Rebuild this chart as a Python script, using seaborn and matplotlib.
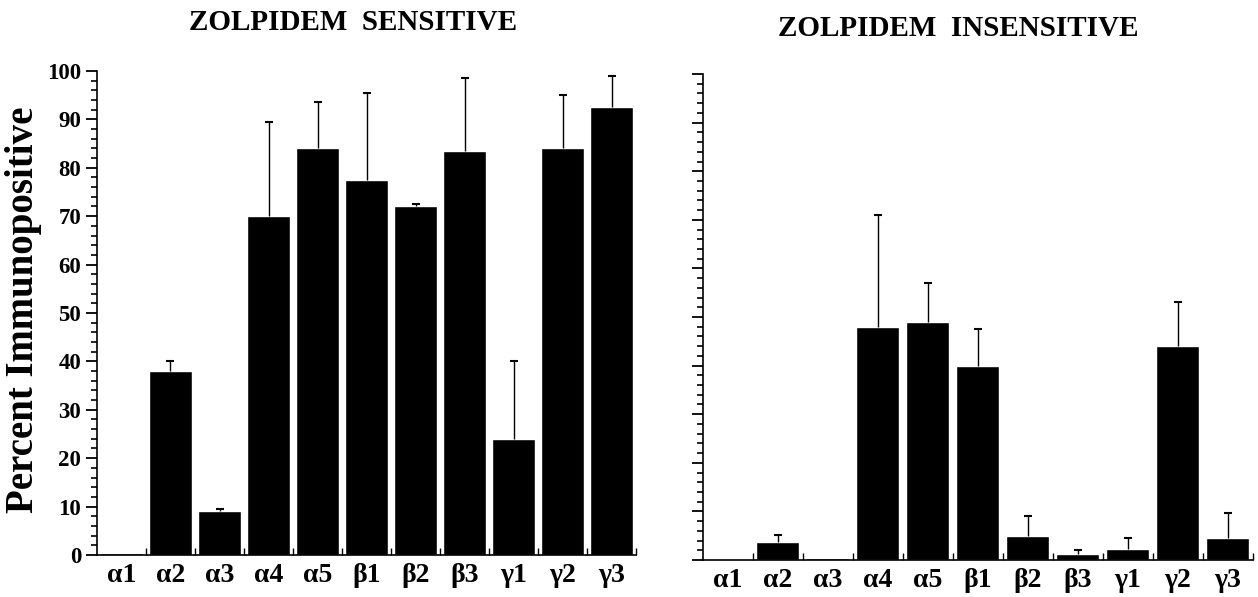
import numpy as np
import pandas as pd
import matplotlib
matplotlib.use("Agg")
import matplotlib.pyplot as plt
from matplotlib.ticker import MultipleLocator
import seaborn as sns

# subunit labels
subunits = ["α1", "α2", "α3", "α4", "α5", "β1", "β2", "β3", "γ1", "γ2", "γ3"]

# zolpidem sensitive cells: mean and upper error
sens_mean = [0.5, 38, 9, 70, 84, 77.5, 72, 83.5, 24, 84, 92.5]
sens_err = [0, 2, 0.5, 19.5, 9.5, 18, 0.5, 15, 16, 11, 6.5]

# zolpidem insensitive cells
insens_mean = [0.2, 3.8, 0.4, 48, 49, 40, 5, 1.2, 2.2, 44, 4.6]
insens_err = [0, 1.4, 0, 23, 8, 7.5, 4, 0.8, 2.3, 9, 5]

sns.set_style("ticks")
plt.rcParams["font.family"] = ["Liberation Serif", "DejaVu Serif"]
plt.rcParams["font.weight"] = "bold"
plt.rcParams["text.color"] = "black"
plt.rcParams["xtick.color"] = "black"
plt.rcParams["ytick.color"] = "black"
plt.rcParams["axes.edgecolor"] = "black"

fig = plt.figure(figsize=(12.58, 5.97), dpi=100)
ax1 = fig.add_axes([0.0771, 0.0704, 0.4285, 0.8107])
ax2 = fig.add_axes([0.5588, 0.0620, 0.4372, 0.8140])


def draw_panel(ax, means, errs, show_labels):
    df = pd.DataFrame({"subunit": subunits, "value": means})
    sns.barplot(data=df, x="subunit", y="value", color="black",
                width=0.86, saturation=1, ax=ax)
    pos = np.arange(len(subunits))
    errs = np.array(errs)
    keep = errs > 0
    eb = ax.errorbar(pos[keep], np.array(means)[keep],
                     yerr=[np.zeros(keep.sum()), errs[keep]], fmt="none",
                     ecolor="black", elinewidth=1, capsize=3, capthick=1.5)
    # only the upper caps are drawn
    eb[1][0].set_visible(False)
    ax.set_xlim(-0.5, len(subunits) - 0.5)
    ax.set_ylim(0, 100)
    ax.set_xlabel("")
    ax.set_ylabel("")
    ax.yaxis.set_major_locator(MultipleLocator(10))
    ax.yaxis.set_minor_locator(MultipleLocator(2))
    ax.tick_params(axis="y", which="major", length=8, width=1.3, direction="out")
    ax.tick_params(axis="y", which="minor", length=4, width=1.2, direction="out")
    ax.set_xticks(pos)
    ax.set_xticklabels(subunits, fontsize=20, fontweight="bold")
    ax.tick_params(axis="x", which="major", length=0, pad=6)
    ax.set_xticks(pos + 0.5, minor=True)
    ax.tick_params(axis="x", which="minor", length=5, width=1, direction="in")
    if show_labels:
        for lab in ax.get_yticklabels():
            lab.set_fontsize(16.5)
            lab.set_fontweight("bold")
    else:
        ax.set_yticklabels([])
    for side in ["top", "right"]:
        ax.spines[side].set_visible(False)
    for side in ["left", "bottom"]:
        ax.spines[side].set_linewidth(1.2)


draw_panel(ax1, sens_mean, sens_err, True)
draw_panel(ax2, insens_mean, insens_err, False)

fig.text(353 / 1258, 1 - 22 / 597, "ZOLPIDEM  SENSITIVE", ha="center", va="center",
         fontsize=21, fontweight="bold")
fig.text(958 / 1258, 1 - 28 / 597, "ZOLPIDEM  INSENSITIVE", ha="center", va="center",
         fontsize=21, fontweight="bold")
fig.text(24 / 1258, 1 - 310 / 597, "Percent Immunopositive", ha="center", va="center",
         rotation=90, fontsize=28, fontweight="bold")

fig.savefig("out.png", dpi=100)
